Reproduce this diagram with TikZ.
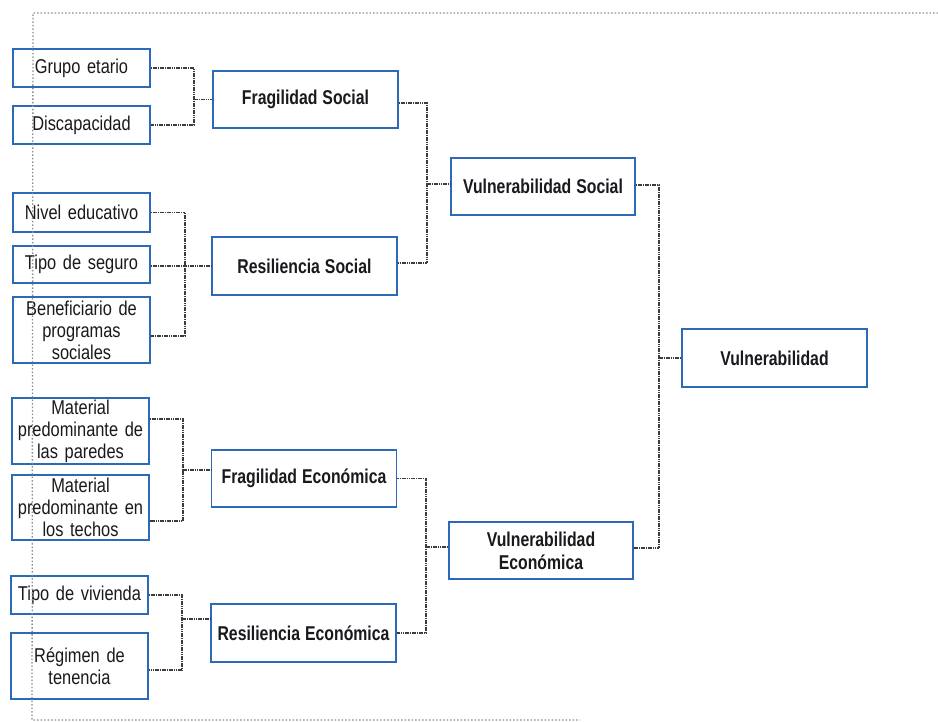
\documentclass[tikz,border=0pt]{standalone}
\usepackage{fontspec}
\setmainfont{Liberation Sans}[
  UprightFeatures={FakeStretch=0.82},
  BoldFeatures={FakeStretch=0.79}]
\definecolor{boxblue}{RGB}{45,105,185}
\definecolor{txt}{RGB}{25,25,30}
\definecolor{conncol}{RGB}{60,60,60}
\definecolor{framecol}{RGB}{140,140,140}
\newcommand{\leaffont}{\fontsize{20}{22}\selectfont\spaceskip=3.6pt plus 1pt minus 0.5pt\relax}
\newcommand{\midfont}{\fontsize{20}{23}\selectfont\bfseries\spaceskip=5pt plus 1pt minus 0.5pt\relax}
\tikzset{
  boxbase/.style={draw=boxblue, line width=1.7pt, inner sep=0pt, align=center,
    text=txt},
  leafbox/.style={boxbase, minimum width=137pt, text width=134pt, font=\leaffont},
  midbox/.style={boxbase, minimum width=185pt, minimum height=57pt, font=\midfont},
  conn/.style={draw=conncol, line width=1.1pt, dash pattern=on 1.6pt off 0.7pt},
  framel/.style={draw=framecol, line width=1.3pt, dash pattern=on 1.5pt off 2pt}
}
\begin{document}
\begin{tikzpicture}[x=1pt,y=-1pt]
\useasboundingbox (0,0) rectangle (938,722);
% leaf boxes
\node[leafbox, minimum height=38pt] (ge) at (81.5,68) {Grupo etario};
\node[leafbox, minimum height=38pt] (dc) at (81.5,125) {Discapacidad};
\node[leafbox, minimum height=39pt] (ne) at (81.5,212.5) {Nivel educativo};
\node[leafbox, minimum height=37pt] (ts) at (81.5,264.5) {Tipo de seguro};
\node[leafbox, minimum height=66pt] (bp) at (81.5,330) {Beneficiario de\\programas\\sociales};
\node[leafbox, minimum height=66pt] (mp) at (80.5,431) {Material\\predominante de\\las paredes};
\node[leafbox, minimum height=65pt] (mt) at (80.5,507.5) {Material\\predominante en\\los techos};
\node[leafbox, minimum height=38pt] (tv) at (79.5,595) {Tipo de vivienda};
\node[leafbox, minimum height=66pt] (rt) at (79.5,666) {Régimen de\\tenencia};
% middle boxes
\node[midbox] (fs) at (305.5,99.5) {Fragilidad Social};
\node[midbox, minimum height=58pt] (rs) at (304.5,266) {Resiliencia Social};
\node[midbox] (fe) at (304,478.5) {Fragilidad Económica};
\node[midbox, minimum height=58pt] (re) at (303.5,633) {Resiliencia Económica};
\node[midbox, minimum width=184pt] (vs) at (543,186.5) {Vulnerabilidad Social};
\node[midbox, minimum width=184pt] (ve) at (541,550.5) {Vulnerabilidad\\Económica};
\node[midbox, minimum height=58pt] (v) at (774.5,358) {Vulnerabilidad};
% junction points
\coordinate (j1) at (194,99.5);
\coordinate (j2) at (185,266);
\coordinate (j3) at (427,184);
\coordinate (j4) at (659,358);
\coordinate (j5) at (426,547);
\coordinate (j6) at (183,470);
\coordinate (j7) at (182,619);
% connectors
\draw[conn] (ge.east) -| (j1) |- (dc.east);
\draw[conn] (j1) -- (j1 -| fs.west);
\draw[conn] (ne.east) -| (j2) |- ([yshift=-6pt]bp.east);
\draw[conn] (ts.east |- j2) -- (j2 -| rs.west);
\draw[conn] ([yshift=-3.5pt]fs.east) -| (j3) |- ([yshift=3pt]rs.east);
\draw[conn] (j3) -- (j3 -| vs.west);
\draw[conn] ([yshift=1.5pt]vs.east) -| (j4) |- ([yshift=2.5pt]ve.east);
\draw[conn] (j4) -- (v.west);
\draw[conn] (fe.east) -| (j5) |- (re.east);
\draw[conn] (j5) -- (j5 -| ve.west);
\draw[conn] ([yshift=12pt]mp.east) -| (j6) |- ([yshift=-13.5pt]mt.east);
\draw[conn] (j6) -- (j6 -| fe.west);
\draw[conn] (tv.east) -| (j7) |- ([yshift=-4pt]rt.east);
\draw[conn] (j7) -- (j7 -| re.west);
% dotted frame
\coordinate (f1) at (33,13);
\coordinate (f2) at (938,13);
\coordinate (f3) at (32,720);
\coordinate (f4) at (580,720);
\draw[framel] (f2) -- (f1) -- (f3) -- (f4);
\end{tikzpicture}
\end{document}
